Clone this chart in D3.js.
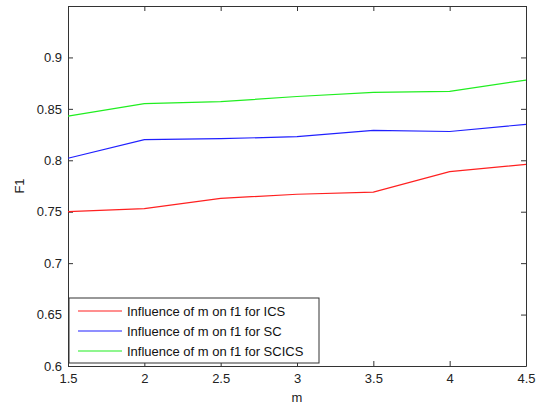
<!DOCTYPE html>
<html>
<head>
<meta charset="utf-8">
<script src="https://cdn.jsdelivr.net/npm/d3@7"></script>
<style>
  body { margin: 0; background: #fff; }
  svg { display: block; font-family: "Liberation Sans", Arial, sans-serif; }
  .axis text { font-size: 13px; fill: #222; }
  .axis path, .axis line { stroke: #333; }
</style>
</head>
<body>
<svg width="537" height="406"></svg>
<script>
var mValues = [1.5, 2, 2.5, 3, 3.5, 4, 4.5];
var icsValues = [0.750, 0.753, 0.763, 0.767, 0.769, 0.789, 0.796];
var scValues = [0.802, 0.820, 0.821, 0.823, 0.829, 0.828, 0.835];
var scicsValues = [0.843, 0.855, 0.857, 0.862, 0.866, 0.867, 0.878];
var seriesNames = ["Influence of m on f1 for ICS", "Influence of m on f1 for SC", "Influence of m on f1 for SCICS"];
var seriesColors = ["#ff2020", "#2020ff", "#20ee20"];
var xTicks = [1.5, 2, 2.5, 3, 3.5, 4, 4.5];
var yTicks = [0.6, 0.65, 0.7, 0.75, 0.8, 0.85, 0.9];

function drawChart() {
    var svg = d3.select("svg"),
        margin = { top: 6, right: 11, bottom: 40, left: 68 },
        width = +svg.attr("width") - margin.left - margin.right,
        height = +svg.attr("height") - margin.top - margin.bottom;

    var x = d3.scaleLinear().domain([1.5, 4.5]).range([0, width]);
    var y = d3.scaleLinear().domain([0.6, 0.95]).range([height, 0]);

    var g = svg.append("g")
        .attr("transform", "translate(" + margin.left + "," + margin.top + ")");

    var fmt = function (d) { return String(+d.toFixed(2)); };

    // ticks point inward, mirrored on top and right
    g.append("g")
        .attr("class", "axis")
        .attr("transform", "translate(0," + height + ")")
        .call(d3.axisBottom(x).tickValues(xTicks).tickFormat(fmt).tickSizeInner(-5).tickSizeOuter(0).tickPadding(8));
    g.append("g")
        .attr("class", "axis")
        .call(d3.axisTop(x).tickValues(xTicks).tickFormat("").tickSizeInner(-5).tickSizeOuter(0));
    g.append("g")
        .attr("class", "axis")
        .call(d3.axisLeft(y).tickValues(yTicks).tickFormat(fmt).tickSizeInner(-5).tickSizeOuter(0).tickPadding(6));
    g.append("g")
        .attr("class", "axis")
        .attr("transform", "translate(" + width + ",0)")
        .call(d3.axisRight(y).tickValues(yTicks).tickFormat("").tickSizeInner(-5).tickSizeOuter(0));

    var series = [icsValues, scValues, scicsValues];
    var line = d3.line()
        .x(function (d, i) { return x(mValues[i]); })
        .y(function (d) { return y(d); });

    g.selectAll(".series")
        .data(series)
        .enter().append("path")
        .attr("class", "series")
        .attr("fill", "none")
        .attr("stroke", function (d, i) { return seriesColors[i]; })
        .attr("stroke-width", 1.2)
        .attr("d", line);

    g.append("text")
        .attr("x", width / 2)
        .attr("y", height + 36)
        .attr("text-anchor", "middle")
        .style("font-size", "13px")
        .style("fill", "#222")
        .text("m");

    g.append("text")
        .attr("transform", "translate(" + (-44) + "," + (height / 2) + ") rotate(-90)")
        .attr("text-anchor", "middle")
        .style("font-size", "13px")
        .style("fill", "#222")
        .text("F1");

    // legend, lower left
    var legend = g.append("g")
        .attr("transform", "translate(1," + (y(0.6) - 68) + ")");
    legend.append("rect")
        .attr("width", 250)
        .attr("height", 65)
        .attr("fill", "#fff")
        .attr("stroke", "#333");
    var rows = legend.selectAll(".row")
        .data(seriesNames)
        .enter().append("g")
        .attr("class", "row")
        .attr("transform", function (d, i) { return "translate(0," + (13 + i * 20) + ")"; });
    rows.append("line")
        .attr("x1", 9).attr("x2", 53)
        .attr("stroke", function (d, i) { return seriesColors[i]; })
        .attr("stroke-width", 1.2);
    rows.append("text")
        .attr("x", 58)
        .attr("dy", "0.35em")
        .style("font-size", "13px")
        .style("fill", "#111")
        .text(function (d) { return d; });
}

drawChart();
</script>
</body>
</html>
